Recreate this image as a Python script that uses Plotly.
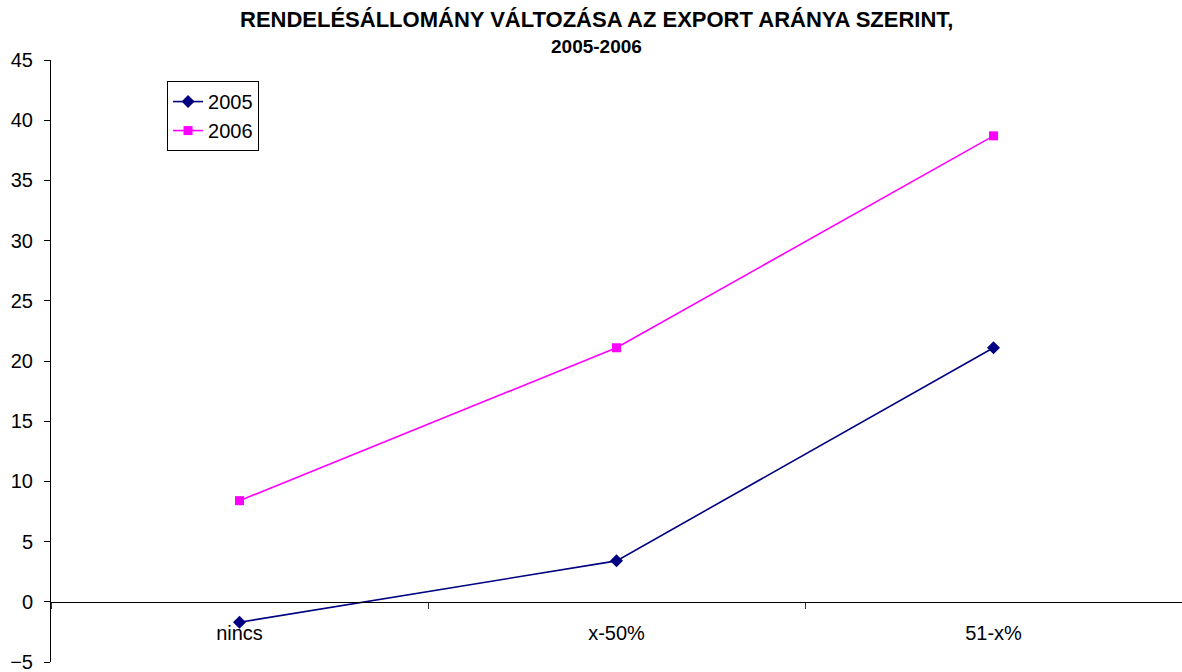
import plotly.graph_objects as go

# Categories and series values
categories = ["nincs", "x-50%", "51-x%"]
values_2005 = [-1.7, 3.4, 21.1]
values_2006 = [8.4, 21.1, 38.7]
y_tick_values = [-5, 0, 5, 10, 15, 20, 25, 30, 35, 40, 45]

title_line1 = "RENDELÉSÁLLOMÁNY VÁLTOZÁSA AZ EXPORT ARÁNYA SZERINT,"
title_line2 = "2005-2006"

FONT = "Liberation Sans, Arial, sans-serif"

fig = go.Figure()
fig.add_trace(go.Scatter(
    x=categories, y=values_2005, name="2005", mode="lines+markers",
    line=dict(color="#000080", width=1.6),
    marker=dict(symbol="diamond", size=10, color="#000080"),
))
fig.add_trace(go.Scatter(
    x=categories, y=values_2006, name="2006", mode="lines+markers",
    line=dict(color="#FF00FF", width=1.6),
    marker=dict(symbol="square", size=9, color="#FF00FF"),
))

# Two-line bold heading above the plot area
fig.add_annotation(
    text=f"<b>{title_line1}</b>", xref="paper", yref="paper",
    x=0.4825, y=1.068, xanchor="center", yanchor="middle", showarrow=False,
    font=dict(family=FONT, size=22, color="black"),
)
fig.add_annotation(
    text=f"<b>{title_line2}</b>", xref="paper", yref="paper",
    x=0.4825, y=1.0216, xanchor="center", yanchor="middle", showarrow=False,
    font=dict(family=FONT, size=19, color="black"),
)

fig.update_layout(
    width=1182, height=672,
    margin=dict(l=51, r=0, t=60, b=10),
    paper_bgcolor="white", plot_bgcolor="white",
    font=dict(family=FONT, size=20, color="black"),
    showlegend=True,
    legend=dict(
        x=0.1026, xanchor="left", y=0.965, yanchor="top",
        bordercolor="black", borderwidth=1, bgcolor="white",
        font=dict(family=FONT, size=20, color="black"),
        tracegroupgap=0, itemwidth=30,
    ),
    xaxis=dict(
        type="category", range=[-0.5, 2.5],
        anchor="free", position=0.1,
        showline=True, linecolor="black", linewidth=1,
        ticks="outside", ticklen=6, tickcolor="#333333", tickwidth=1,
        tickson="boundaries", showgrid=False, zeroline=False,
        ticklabelstandoff=13,
        tickfont=dict(family=FONT, size=20, color="black"),
    ),
    yaxis=dict(
        range=[-5, 45], tickmode="array", tickvals=y_tick_values,
        showline=True, linecolor="black", linewidth=1,
        ticks="outside", ticklen=6, tickcolor="black",
        showgrid=False, zeroline=False,
        ticklabelstandoff=7, ticklabeloverflow="allow",
        tickfont=dict(family=FONT, size=20, color="black"),
    ),
)

fig.write_html("out.html")
